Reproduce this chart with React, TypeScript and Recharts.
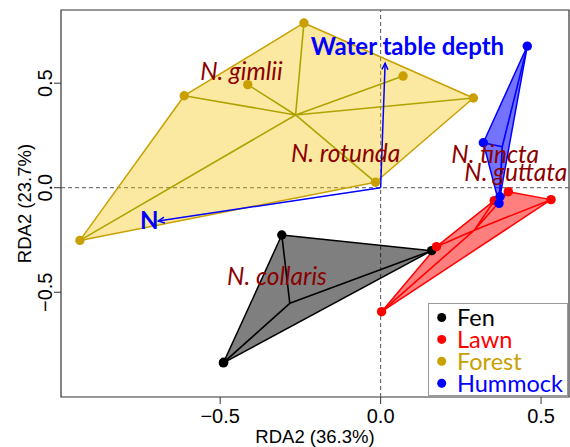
import React from 'react';
import { ScatterChart, Scatter, XAxis, YAxis, ReferenceLine, ReferenceArea, Label } from 'recharts';

// ---------- axes ----------
const X_DOMAIN: [number, number] = [-0.996, 0.587];
const Y_DOMAIN: [number, number] = [-1.001, 0.85];
const X_TICKS = [-0.5, 0, 0.5];
const Y_TICKS = [-0.5, 0, 0.5];
const X_TITLE = 'RDA2 (36.3%)';
const Y_TITLE = 'RDA2 (23.7%)';

// ---------- groups ----------
const GROUPS = ['Fen', 'Lawn', 'Forest', 'Hummock'];
const GROUP_COLORS = ['#000000', '#FF0000', '#C9A000', '#0000FF'];

// ---------- site scores ----------
const fenX = [-0.308, -0.489, 0.159, -0.49];
const fenY = [-0.226, -0.835, -0.301, -0.838];
const fenHull = [0, 3, 2];
const fenCentroid = [-0.283, -0.553];

const lawnX = [0.398, 0.531, 0.354, 0.174, 0.003];
const lawnY = [-0.019, -0.057, -0.062, -0.282, -0.593];
const lawnHull = [4, 1, 0, 2, 3];
const lawnCentroid = [0.292, -0.203];

const forestX = [-0.937, -0.612, -0.414, -0.239, 0.07, 0.289, -0.016];
const forestY = [-0.252, 0.44, 0.493, 0.788, 0.534, 0.429, 0.026];
const forestHull = [0, 1, 3, 5, 6];
const forestCentroid = [-0.265, 0.348];

const hummockX = [0.457, 0.32, 0.369, 0.372];
const hummockY = [0.677, 0.215, -0.075, -0.043];
const hummockHull = [0, 1, 2, 3];
const hummockCentroid = [0.379, 0.196];

// ---------- biplot arrows ----------
const ARROW_NAMES = ['Water table depth', 'N'];
const ARROW_X = [0.014, -0.693];
const ARROW_Y = [0.595, -0.159];
const ARROW_LABEL_X = [0.0835, -0.721];
const ARROW_LABEL_Y = [0.677, -0.158];

// ---------- species labels ----------
const SPECIES = ['N. gimlii', 'N. rotunda', 'N. tincta', 'N. guttata', 'N. collaris'];
const SPECIES_X = [-0.434, -0.109, 0.357, 0.421, -0.323];
const SPECIES_Y = [0.559, 0.165, 0.16, 0.075, -0.424];

// ---------- helpers ----------
type Pt = { x: number; y: number; label?: string };
const toPts = (xs: number[], ys: number[]): Pt[] => xs.map((x, i) => ({ x, y: ys[i] }));
const hullPts = (xs: number[], ys: number[], idx: number[]): Pt[] => idx.map((i) => ({ x: xs[i], y: ys[i] }));
const spiderPts = (xs: number[], ys: number[], c: number[]): Pt[] =>
  xs.flatMap((x, i) => [{ x: c[0], y: c[1] }, { x, y: ys[i] }]);

const groupData = [
  { xs: fenX, ys: fenY, hull: fenHull, c: fenCentroid, fill: '#000000', op: 0.5, stroke: '#000000', spider: '#000000' },
  { xs: lawnX, ys: lawnY, hull: lawnHull, c: lawnCentroid, fill: '#FF0000', op: 0.5, stroke: '#FF0000', spider: '#FF0000' },
  { xs: forestX, ys: forestY, hull: forestHull, c: forestCentroid, fill: '#F5C400', op: 0.37, stroke: '#C9A000', spider: '#AFA300' },
  { xs: hummockX, ys: hummockY, hull: hummockHull, c: hummockCentroid, fill: '#0000FF', op: 0.55, stroke: '#0000FF', spider: '#0000FF' },
];

const Nothing = () => <g />;

function HullLine(props: any) {
  const { points, hullFill, hullOpacity, hullStroke } = props;
  if (!points || !points.length) return <g />;
  const d = points.map((p: any, i: number) => `${i ? 'L' : 'M'}${p.x},${p.y}`).join(' ') + ' Z';
  return <path d={d} fill={hullFill} fillOpacity={hullOpacity} stroke={hullStroke} strokeWidth={1.5} strokeLinejoin="round" />;
}

function SpiderLine(props: any) {
  const { points, spiderStroke } = props;
  if (!points || !points.length) return <g />;
  let d = '';
  for (let i = 0; i + 1 < points.length; i += 2) {
    d += `M${points[i].x},${points[i].y} L${points[i + 1].x},${points[i + 1].y} `;
  }
  return <path d={d} fill="none" stroke={spiderStroke} strokeWidth={1.6} />;
}

function ArrowLine(props: any) {
  const { points, arrowStroke } = props;
  if (!points || points.length < 2) return <g />;
  const [a, b] = points;
  const ang = Math.atan2(b.y - a.y, b.x - a.x);
  const L = 7;
  const w = Math.PI / 7;
  const p1 = { x: b.x - L * Math.cos(ang - w), y: b.y - L * Math.sin(ang - w) };
  const p2 = { x: b.x - L * Math.cos(ang + w), y: b.y - L * Math.sin(ang + w) };
  return (
    <g fill="none" stroke={arrowStroke} strokeWidth={1.5}>
      <path d={`M${a.x},${a.y} L${b.x},${b.y}`} />
      <path d={`M${p1.x},${p1.y} L${b.x},${b.y} L${p2.x},${p2.y}`} />
    </g>
  );
}

const fmt = (v: number) => (v === 0 ? '0.0' : v < 0 ? '\u2212' + Math.abs(v).toFixed(1) : v.toFixed(1));

const XTick = (props: any) => {
  const { x, y, payload } = props;
  return (
    <text x={x} y={y + 16.5} textAnchor="middle" fontFamily="'Liberation Sans', Arial, sans-serif" fontSize={20} fill="#000">
      {fmt(payload.value)}
    </text>
  );
};

const YTick = (props: any) => {
  const { x, y, payload } = props;
  return (
    <text transform={`translate(${x - 0.5},${y}) rotate(-90)`} textAnchor="middle" fontFamily="'Liberation Sans', Arial, sans-serif" fontSize={20} fill="#000">
      {fmt(payload.value)}
    </text>
  );
};

const XTitle = (props: any) => {
  const vb = props.viewBox || { x: 61, y: 397, width: 508, height: 50 };
  return (
    <text x={vb.x + vb.width / 2} y={vb.y + 45.5} textAnchor="middle" fontFamily="'Liberation Sans', Arial, sans-serif" fontSize={18.5} fill="#000">
      {X_TITLE}
    </text>
  );
};

const YTitle = (props: any) => {
  const vb = props.viewBox || { x: 0, y: 10, width: 61, height: 387 };
  return (
    <text transform={`translate(${vb.x + 30.5},${vb.y + vb.height / 2}) rotate(-90)`} textAnchor="middle" fontFamily="'Liberation Sans', Arial, sans-serif" fontSize={18.5} fill="#000">
      {Y_TITLE}
    </text>
  );
};

export default function App() {
  return (
    <div style={{ position: 'absolute', left: 0, top: 0, width: 570, height: 447, background: '#fff' }}>
      <ScatterChart width={570} height={447} margin={{ top: 10, right: 1, bottom: 0, left: 0 }}>
        <XAxis
          type="number"
          dataKey="x"
          domain={X_DOMAIN}
          ticks={X_TICKS}
          allowDataOverflow
          axisLine={false}
          tickSize={7}
          tickLine={{ stroke: '#333' }}
          tick={<XTick />}
          height={50}
          interval={0}
        >
          <Label content={<XTitle />} />
        </XAxis>
        <YAxis
          type="number"
          dataKey="y"
          domain={Y_DOMAIN}
          ticks={Y_TICKS}
          allowDataOverflow
          axisLine={false}
          tickSize={7}
          tickLine={{ stroke: '#333' }}
          tick={<YTick />}
          width={61}
          interval={0}
        >
          <Label content={<YTitle />} />
        </YAxis>
        <ReferenceLine x={0} stroke="#555" strokeDasharray="4 3" strokeWidth={1} />
        <ReferenceLine y={0} stroke="#555" strokeDasharray="4 3" strokeWidth={1} />

        {groupData.map((g, i) => (
          <Scatter
            key={'hull' + i}
            data={hullPts(g.xs, g.ys, g.hull)}
            shape={Nothing}
            line={<HullLine hullFill={g.fill} hullOpacity={g.op} hullStroke={g.stroke} />}
            isAnimationActive={false}
          />
        ))}
        {groupData.map((g, i) => (
          <Scatter
            key={'spider' + i}
            data={spiderPts(g.xs, g.ys, g.c)}
            shape={Nothing}
            line={<SpiderLine spiderStroke={g.spider} />}
            isAnimationActive={false}
          />
        ))}
        {ARROW_NAMES.map((n, i) => (
          <Scatter
            key={'arrow' + i}
            data={[{ x: 0, y: 0 }, { x: ARROW_X[i], y: ARROW_Y[i] }]}
            shape={Nothing}
            line={<ArrowLine arrowStroke="#0000FF" />}
            isAnimationActive={false}
          />
        ))}
        {groupData.map((g, i) => (
          <Scatter
            key={'pts' + i}
            data={toPts(g.xs, g.ys)}
            shape={(p: any) => <circle cx={p.cx} cy={p.cy} r={4.7} fill={GROUP_COLORS[i]} />}
            isAnimationActive={false}
          />
        ))}
        <Scatter
          data={SPECIES.map((s, i) => ({ x: SPECIES_X[i], y: SPECIES_Y[i], label: s }))}
          shape={(p: any) => (
            <text x={p.cx} y={p.cy} dy="0.36em" textAnchor="middle" fontFamily="Lato, 'Noto Sans', sans-serif" fontStyle="italic" fontSize={24.5} fill="#8B0000">
              {p.payload.label}
            </text>
          )}
          isAnimationActive={false}
        />
        <Scatter
          data={ARROW_NAMES.map((s, i) => ({ x: ARROW_LABEL_X[i], y: ARROW_LABEL_Y[i], label: s }))}
          shape={(p: any) => (
            <text x={p.cx} y={p.cy} dy="0.36em" textAnchor="middle" fontFamily="Lato, 'Noto Sans', sans-serif" fontWeight="bold" fontSize={24} fill="#0000FF">
              {p.payload.label}
            </text>
          )}
          isAnimationActive={false}
        />
        <ReferenceArea
          x1={X_DOMAIN[0]}
          x2={X_DOMAIN[1]}
          y1={Y_DOMAIN[0]}
          y2={Y_DOMAIN[1]}
          fill="none"
          fillOpacity={0}
          stroke="#333"
          strokeWidth={1.2}
          ifOverflow="visible"
        />
      </ScatterChart>
      <svg width={570} height={447} style={{ position: 'absolute', left: 0, top: 0, pointerEvents: 'none' }}>
        <rect x={428.5} y={303.5} width={139} height={92} fill="#fff" stroke="#999" strokeWidth={1} />
        {GROUPS.map((g, i) => (
          <g key={g}>
            <circle cx={441.7} cy={317.5 + i * 21.9} r={4.5} fill={GROUP_COLORS[i]} />
            <text x={457} y={317.5 + i * 21.9} dy="0.36em" fontFamily="Lato, 'Noto Sans', sans-serif" fontSize={23.5} fill={GROUP_COLORS[i]}>
              {g}
            </text>
          </g>
        ))}
      </svg>
    </div>
  );
}
